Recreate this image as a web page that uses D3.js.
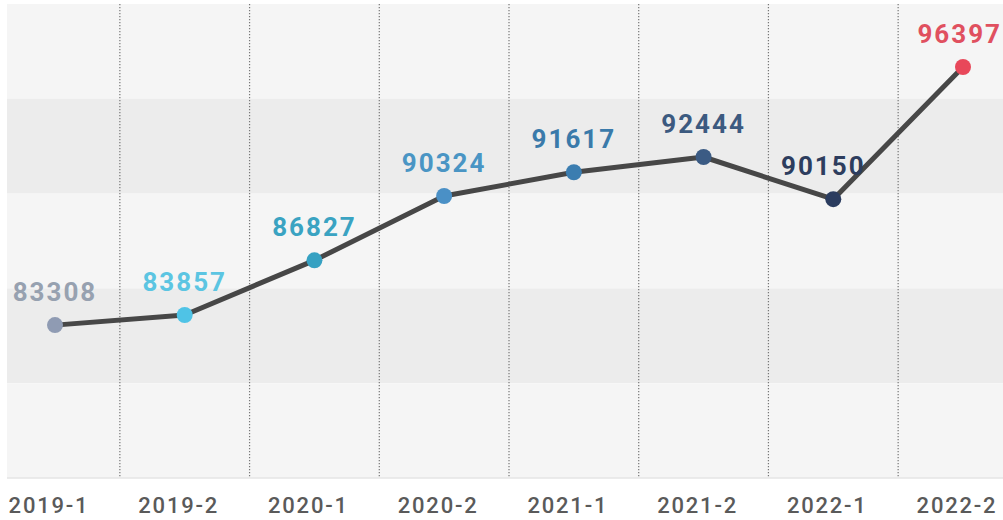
<!DOCTYPE html>
<html>
<head>
<meta charset="utf-8">
<script src="https://cdn.jsdelivr.net/npm/d3@7"></script>
<style>
    body { margin: 0; background: #fff; }
    svg { display: block; }
    .val-label { font-family: Roboto, sans-serif; font-weight: 700; font-size: 26px; letter-spacing: 2px; }
    .x-label { font-family: Roboto, sans-serif; font-weight: 500; font-size: 22px; letter-spacing: 1.8px; fill: #5a5a5a; }
</style>
</head>
<body>
<svg id="chart"></svg>
<script>
// chart data
const periods = ["2019-1", "2019-2", "2020-1", "2020-2", "2021-1", "2021-2", "2022-1", "2022-2"];
const values = [83308, 83857, 86827, 90324, 91617, 92444, 90150, 96397];
const pointColors = ["#8f9bb3", "#4fc3e6", "#36a1c2", "#4a90c6", "#3b7db0", "#3b5b84", "#2b3c5f", "#e8485a"];
const labelColors = ["#97a1b0", "#5cc5e2", "#3aa3c2", "#4a95c4", "#3a7aaa", "#3c5a80", "#2d3d5e", "#e0505f"];

const width = 1003, height = 520;
const plot = { left: 7, top: 4, bottom: 478 };

const svg = d3.select("#chart")
    .attr("width", width)
    .attr("height", height);

// x positions of the points
const xScale = d3.scalePoint()
    .domain(periods)
    .range([55, 963]);
const step = xScale.step();

// the original chart is not quite linear near the top, so use a two piece scale
const yScale = d3.scaleLinear()
    .domain([75000, 92444, 96397])
    .range([plot.bottom, 157, 67]);

// striped background
const bandH = (plot.bottom - plot.top) / 5;
svg.append("g")
    .selectAll("rect")
    .data(d3.range(5))
    .join("rect")
    .attr("x", plot.left)
    .attr("y", i => plot.top + i * bandH)
    .attr("width", width - plot.left)
    .attr("height", bandH)
    .attr("fill", i => i % 2 === 0 ? "#f5f5f5" : "#ececec");

// bottom edge of the plot
svg.append("line")
    .attr("x1", plot.left).attr("x2", width)
    .attr("y1", plot.bottom).attr("y2", plot.bottom)
    .attr("stroke", "#e4e4e4")
    .attr("stroke-width", 1.5);

// dotted separators between the periods
svg.append("g")
    .selectAll("line")
    .data(periods.slice(1))
    .join("line")
    .attr("x1", d => xScale(d) - step / 2)
    .attr("x2", d => xScale(d) - step / 2)
    .attr("y1", plot.top)
    .attr("y2", plot.bottom)
    .attr("stroke", "#777")
    .attr("stroke-width", 1.2)
    .attr("stroke-dasharray", "1.2,1.8");

// x axis labels
svg.append("g")
    .selectAll("text")
    .data(periods)
    .join("text")
    .attr("class", "x-label")
    .attr("x", d => xScale(d) - 6)
    .attr("y", 513)
    .attr("text-anchor", "middle")
    .text(d => d);

// the line
const pts = periods.map((p, i) => ({ period: p, value: values[i], i: i }));
svg.append("path")
    .datum(pts)
    .attr("fill", "none")
    .attr("stroke", "#474747")
    .attr("stroke-width", 5)
    .attr("stroke-linejoin", "round")
    .attr("d", d3.line()
        .x(d => xScale(d.period))
        .y(d => yScale(d.value))
    );

// points
svg.append("g")
    .selectAll("circle")
    .data(pts)
    .join("circle")
    .attr("cx", d => xScale(d.period))
    .attr("cy", d => yScale(d.value))
    .attr("r", 8)
    .attr("fill", d => pointColors[d.i]);

// value labels
svg.append("g")
    .selectAll("text")
    .data(pts)
    .join("text")
    .attr("class", "val-label")
    .attr("x", d => xScale(d.period) + (d.i === 6 ? -10 : 0))
    .attr("y", d => yScale(d.value) - 24)
    .attr("text-anchor", "middle")
    .attr("fill", d => labelColors[d.i])
    .text(d => d.value)
    .each(function () {
        // keep labels inside the svg on the right
        const box = this.getBBox();
        const over = box.x + box.width - (width - 1);
        if (over > 0) d3.select(this).attr("x", +this.getAttribute("x") - over);
    });
</script>
</body>
</html>
